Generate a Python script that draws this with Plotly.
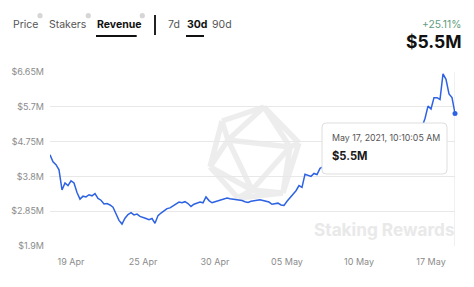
import plotly.graph_objects as go

# ---------------- data ----------------
revenue_m = [
    4.39, 4.20, 4.12, 3.98, 3.43, 3.62, 3.55, 3.68, 3.62, 3.36,
    3.18, 3.26, 3.24, 3.30, 3.27, 3.33, 3.20, 3.15, 3.05, 3.06,
    3.02, 2.96, 2.78, 2.60, 2.50, 2.66, 2.76, 2.81, 2.75, 2.77,
    2.71, 2.69, 2.65, 2.62, 2.65, 2.52, 2.73, 2.80, 2.87, 2.92,
    2.94, 2.99, 3.05, 3.10, 3.08, 3.11, 3.06, 2.98, 3.04, 3.07,
    3.10, 3.08, 3.24, 3.14, 3.08, 3.11, 3.13, 3.16, 3.18, 3.21,
    3.19, 3.18, 3.15, 3.16, 3.14, 3.11, 3.09, 3.12, 3.13, 3.15,
    3.16, 3.14, 3.12, 3.10, 3.04, 3.06, 3.07, 3.02, 3.01, 3.12,
    3.22, 3.33, 3.41, 3.55, 3.50, 3.86, 3.82, 3.80, 3.88, 3.85,
    4.02, 4.06, 4.10, 4.05, 4.15, 4.20, 4.12, 4.25, 4.30, 4.22,
    4.35, 4.40, 4.32, 4.45, 4.50, 4.42, 4.55, 4.60, 4.52, 4.65,
    4.70, 4.62, 4.75, 4.80, 4.72, 4.85, 4.90, 4.82, 4.95, 5.00,
    4.92, 5.05, 5.10, 5.05, 5.15, 5.38, 5.72, 5.64, 5.95, 5.95,
    5.90, 6.60, 6.45, 6.05, 5.95, 5.52,
]
point_index = list(range(len(revenue_m)))

x_tick_index = [7, 31, 55, 79, 103, 127]
x_tick_labels = ["19 Apr", "25 Apr", "30 Apr", "05 May", "10 May", "17 May"]

y_tick_vals = [1.9, 2.85, 3.8, 4.75, 5.7, 6.65]
y_tick_labels = ["$1.9M", "$2.85M", "$3.8M", "$4.75M", "$5.7M", "$6.65M"]

tabs = ["Price", "Stakers", "Revenue"]
periods = ["7d", "30d", "90d"]
change_text = "+25.11%"
current_text = "$5.5M"
tooltip_date = "May 17, 2021, 10:10:05 AM"
tooltip_value = "$5.5M"

# ---------------- layout geometry ----------------
W, H = 474, 287
L, R, T, B = 50, 19, 72, 41
PW, PH = W - L - R, H - T - B


def px(x):
    return (x - L) / PW


def py(y):
    return (H - B - y) / PH


FONT = "Inter, Noto Sans, sans-serif"
BLUE = "#2d62e3"

fig = go.Figure()
fig.add_trace(go.Scatter(
    x=point_index, y=revenue_m, mode="lines",
    line=dict(color=BLUE, width=1.5), hoverinfo="skip",
))
fig.add_trace(go.Scatter(
    x=[point_index[-1]], y=[revenue_m[-1]], mode="markers",
    marker=dict(color=BLUE, size=5), hoverinfo="skip", cliponaxis=False,
))

shapes = []
annotations = []

# watermark polyhedron
Tp, UL, Lf, BL, BR, Rt = (264, 107), (222, 121), (210, 167), (238, 198), (283, 193), (299, 143)
a, b, c = (228, 140), (290, 147), (252, 190)
edges = [(Tp, UL), (UL, Lf), (Lf, BL), (BL, BR), (BR, Rt), (Rt, Tp),
         (Tp, a), (Tp, b), (UL, a), (Lf, a), (Lf, c), (BL, c), (BR, c), (BR, b), (Rt, b),
         (a, b), (b, c), (c, a)]
path = " ".join(f"M{px(p[0]):.4f},{py(p[1]):.4f} L{px(q[0]):.4f},{py(q[1]):.4f}" for p, q in edges)
shapes.append(dict(type="path", xref="paper", yref="paper", path=path,
                   line=dict(color="rgba(0,0,0,0.07)", width=5.5), layer="between"))

annotations.append(dict(xref="paper", yref="paper", x=px(456), y=py(229), xanchor="right", yanchor="middle",
                        text="<b>Staking Rewards</b>", showarrow=False, borderpad=0,
                        font=dict(family=FONT, size=17.2, color="#e9e9e9")))

# crosshair at last point
shapes.append(dict(type="line", xref="x", yref="paper", x0=point_index[-1], x1=point_index[-1],
                   y0=0, y1=1, line=dict(color="#e6e6e6", width=1.2), layer="between"))

# tooltip box
x0, x1, y0, y1, r = 322, 447, 123, 174, 4
tp = (f"M{px(x0 + r)},{py(y0)} L{px(x1 - r)},{py(y0)} Q{px(x1)},{py(y0)} {px(x1)},{py(y0 + r)} "
      f"L{px(x1)},{py(y1 - r)} Q{px(x1)},{py(y1)} {px(x1 - r)},{py(y1)} "
      f"L{px(x0 + r)},{py(y1)} Q{px(x0)},{py(y1)} {px(x0)},{py(y1 - r)} "
      f"L{px(x0)},{py(y0 + r)} Q{px(x0)},{py(y0)} {px(x0 + r)},{py(y0)} Z")
shapes.append(dict(type="path", xref="paper", yref="paper", path=tp, fillcolor="white",
                   line=dict(color="#dedede", width=1), layer="above"))
annotations.append(dict(xref="paper", yref="paper", x=px(330.5), y=py(137.5), xanchor="left", yanchor="middle",
                        text=tooltip_date, showarrow=False, borderpad=0,
                        font=dict(family=FONT, size=8.8, color="#555")))
annotations.append(dict(xref="paper", yref="paper", x=px(330.5), y=py(156), xanchor="left", yanchor="middle",
                        text=f"<b>{tooltip_value}</b>", showarrow=False, borderpad=0,
                        font=dict(family=FONT, size=11.2, color="#1a1a1a")))

# header tabs
tab_left = [11.7, 48.3, 96]
icon_x = [40, 88.3, 142.3]
for name, lx, ix in zip(tabs, tab_left, icon_x):
    bold = name == "Revenue"
    annotations.append(dict(xref="paper", yref="paper", x=px(lx), y=py(25), xanchor="left", yanchor="middle",
                            text=f"<b>{name}</b>" if bold else name, showarrow=False, borderpad=0,
                            font=dict(family=FONT, size=10.5, color="#111" if bold else "#555")))
    shapes.append(dict(type="circle", xref="paper", yref="paper", x0=px(ix - 2.6), x1=px(ix + 2.6),
                       y0=py(15.7 + 2.6), y1=py(15.7 - 2.6), fillcolor="#d6d6d6", line=dict(width=0)))
shapes.append(dict(type="line", xref="paper", yref="paper", x0=px(96), x1=px(136.7), y0=py(36), y1=py(36),
                   line=dict(color="#111", width=2)))
shapes.append(dict(type="line", xref="paper", yref="paper", x0=px(155), x1=px(155), y0=py(15), y1=py(35),
                   line=dict(color="#222", width=2)))

period_left = [166.7, 186, 211]
for name, lx in zip(periods, period_left):
    bold = name == "30d"
    annotations.append(dict(xref="paper", yref="paper", x=px(lx), y=py(25), xanchor="left", yanchor="middle",
                            text=f"<b>{name}</b>" if bold else name, showarrow=False, borderpad=0,
                            font=dict(family=FONT, size=10.5, color="#111" if bold else "#555")))
shapes.append(dict(type="line", xref="paper", yref="paper", x0=px(186), x1=px(204), y0=py(36), y1=py(36),
                   line=dict(color="#111", width=2)))

annotations.append(dict(xref="paper", yref="paper", x=px(462), y=py(23.7), xanchor="right", yanchor="middle",
                        text=change_text, showarrow=False, borderpad=0,
                        font=dict(family=FONT, size=10.3, color="#5f9c7e")))
annotations.append(dict(xref="paper", yref="paper", x=px(462), y=py(41), xanchor="right", yanchor="middle",
                        text=f"<b>{current_text}</b>", showarrow=False, borderpad=0,
                        font=dict(family=FONT, size=17.5, color="#111")))

fig.update_layout(
    width=W, height=H, margin=dict(l=L, r=R, t=T, b=B),
    paper_bgcolor="white", plot_bgcolor="white", showlegend=False,
    shapes=shapes, annotations=annotations,
    font=dict(family=FONT),
    xaxis=dict(range=[0, len(revenue_m) - 1], tickmode="array", tickvals=x_tick_index, ticktext=x_tick_labels,
               showgrid=False, zeroline=False, showline=False, ticks="",
               tickfont=dict(size=9, color="#8c8c8c"), ticklabelstandoff=9),
    yaxis=dict(range=[1.9, 6.65], tickmode="array", tickvals=y_tick_vals, ticktext=y_tick_labels,
               showgrid=True, gridcolor="#e8e8e8", gridwidth=1.2, zeroline=False, showline=False, ticks="",
               tickfont=dict(size=9, color="#8c8c8c"), ticklabelstandoff=5),
)

fig.write_html("out.html")
